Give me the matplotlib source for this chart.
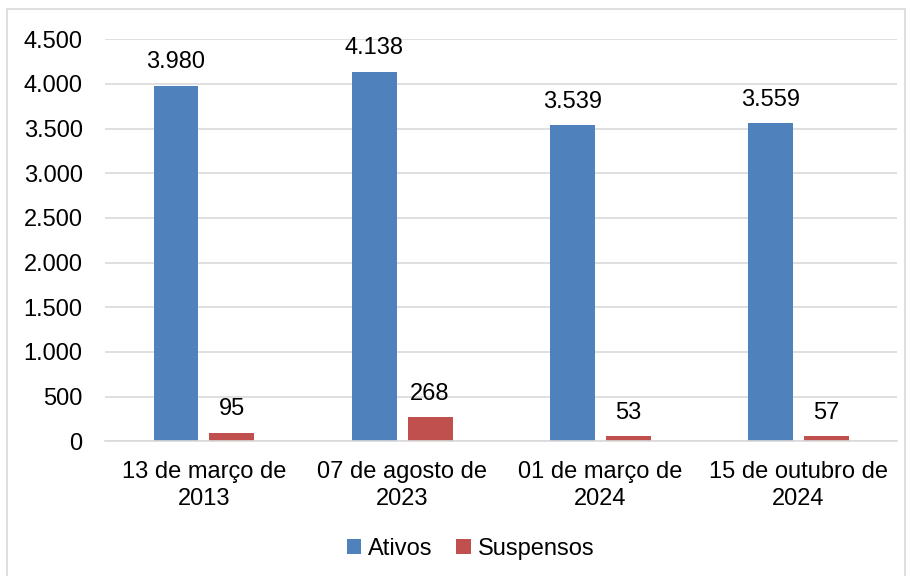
import numpy as np
import matplotlib.pyplot as plt
from matplotlib.patches import Rectangle

plt.rcParams['font.family'] = ['Liberation Sans', 'DejaVu Sans']

categorias = ['13 de março de\n2013', '07 de agosto de\n2023',
              '01 de março de\n2024', '15 de outubro de\n2024']
ativos = [3980, 4138, 3539, 3559]
suspensos = [95, 268, 53, 57]


def fmt(v):
    return f'{v:,}'.replace(',', '.')


fig = plt.figure(figsize=(9.12, 5.76), dpi=100)
ax = fig.add_axes([0.115, 0.234, 0.869, 0.698])

x = np.arange(len(categorias))
w = 0.227
off = 0.141
b1 = ax.bar(x - off, ativos, w, color='#4f81bd', label='Ativos')
b2 = ax.bar(x + off, suspensos, w, color='#c0504d', label='Suspensos')

for bars, vals in ((b1, ativos), (b2, suspensos)):
    for b, v in zip(bars, vals):
        ax.annotate(fmt(v), (b.get_x() + b.get_width() / 2, v),
                    xytext=(0, 9), textcoords='offset points',
                    ha='center', va='bottom', fontsize=17)

ax.set_xlim(-0.5, len(categorias) - 0.5)
ax.set_ylim(0, 4500)
ax.set_yticks(np.arange(0, 4501, 500))
ax.set_yticklabels([fmt(v) for v in range(0, 4501, 500)])
ax.set_xticks(x)
ax.set_xticklabels(categorias, linespacing=1.3)
ax.tick_params(length=0, labelsize=17)
ax.tick_params(axis='x', pad=14)
ax.tick_params(axis='y', pad=16)
ax.grid(axis='y', color='#d9d9d9', linewidth=1.2)
ax.set_axisbelow(True)
for s in ['top', 'right', 'left']:
    ax.spines[s].set_visible(False)
ax.spines['bottom'].set_color('#d9d9d9')
ax.spines['bottom'].set_linewidth(1.2)

fig.legend(handles=[b1, b2], loc='center', bbox_to_anchor=(0.516, 0.047),
           ncol=2, frameon=False, fontsize=17, handlelength=0.6,
           handleheight=0.6, handletextpad=0.3, columnspacing=1.0)

fig.patches.append(Rectangle((7 / 912, -0.01), 898 / 912, 1 - 9 / 576 + 0.01,
                             transform=fig.transFigure, fill=False,
                             edgecolor='#d9d9d9', linewidth=1.2))

fig.savefig('out.png', dpi=100)
